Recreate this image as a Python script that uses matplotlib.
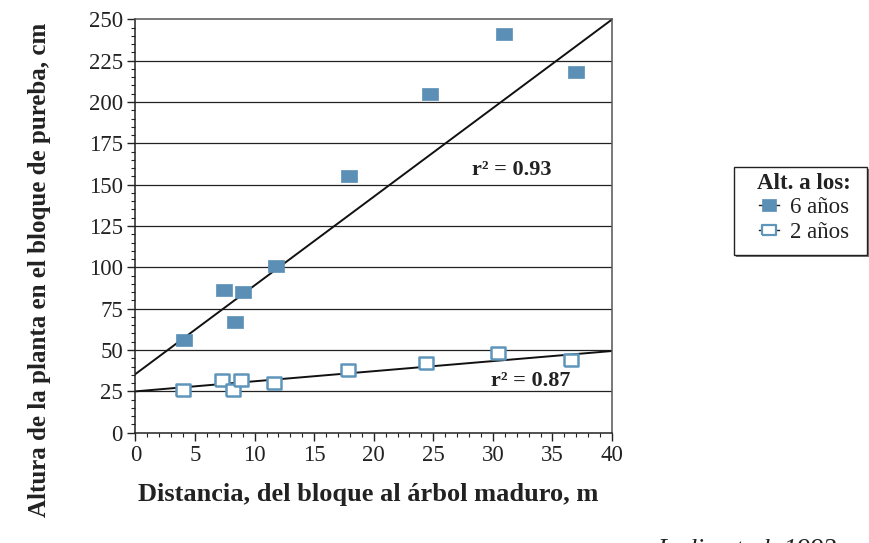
import matplotlib
matplotlib.use("Agg")
import matplotlib.pyplot as plt
import numpy as np
from matplotlib.ticker import MultipleLocator
from matplotlib.patches import Rectangle

plt.rcParams['font.family'] = ['Liberation Serif', 'DejaVu Serif']

# Distance to mature tree (m) and plant height (cm)
dist_6 = [4.05, 7.4, 9.05, 8.35, 11.8, 17.9, 24.7, 30.9, 37.0]
alt_6 = [56, 86, 85, 67, 101, 155, 205, 241, 218]
dist_2 = [3.95, 7.25, 8.2, 8.85, 11.6, 17.8, 24.35, 30.4, 36.6]
alt_2 = [26, 32, 26, 32, 30, 38, 42, 48, 44]

# Regression lines (intercept, slope) and their r²
fit_6 = (35.5, 5.36)
fit_2 = (25.0, 0.61)
r2_6 = 0.93
r2_2 = 0.87

series_labels = ['6 años', '2 años']
legend_title = 'Alt. a los:'
x_label = 'Distancia, del bloque al árbol maduro, m'
y_label = 'Altura de la planta en el bloque de pureba, cm'
source = 'Ledig et al. 1993'

blue = '#5b8fb6'
blue_edge = '#5e95bb'
ink = '#222222'
rect = [(-1, -0.78), (1, -0.78), (1, 0.78), (-1, 0.78), (-1, -0.78)]

W, H = 870, 543
fig = plt.figure(figsize=(W / 100, H / 100), dpi=100)
ax = fig.add_axes([135.5 / W, 1 - 432.7 / H, 476.5 / W, 413.4 / H])

ax.set_xlim(0, 40)
ax.set_ylim(0, 250)

for y in range(25, 250, 25):
    ax.axhline(y, color=ink, lw=0.9, zorder=1)

xs = np.array([0, 40])
ax.plot(xs, fit_6[0] + fit_6[1] * xs, color='#111111', lw=1.4, zorder=2)
ax.plot(xs, fit_2[0] + fit_2[1] * xs, color='#111111', lw=1.4, zorder=2)

ax.plot(dist_6, alt_6, ls='none', marker=rect, ms=11.5, mfc=blue, mec=blue,
        mew=0.5, zorder=3)
ax.plot(dist_2, alt_2, ls='none', marker=rect, ms=10.5, mfc='white',
        mec=blue_edge, mew=1.8, zorder=3)

# legend box with a thin drop shadow
box = (734, 167, 867, 255)
fig.patches.append(Rectangle(((box[0] + 2) / W, 1 - (box[3] + 2) / H),
                             (box[2] - box[0]) / W, (box[3] - box[1]) / H,
                             transform=fig.transFigure, fc='#777777',
                             ec='none', zorder=0.5))
fig.patches.append(Rectangle((box[0] / W, 1 - box[3] / H),
                             (box[2] - box[0]) / W, (box[3] - box[1]) / H,
                             transform=fig.transFigure, fc='white', ec=ink,
                             lw=1.0, zorder=1))

# legend handles: marker with a line through it
h6, = ax.plot([], [], color=ink, lw=1.0, marker=rect, ms=10.5, mfc=blue,
              mec=blue, mew=0.5)
h2, = ax.plot([], [], color=ink, lw=1.0, marker=rect, ms=9.5,
              mfc='white', mec=blue_edge, mew=1.6)
leg = fig.legend([h6, h2], series_labels, title=legend_title,
                 loc='upper left', bbox_to_anchor=(757 / W, 1 - 173 / H),
                 frameon=False, fontsize=16.5, title_fontsize=16.5,
                 handlelength=0.85, handletextpad=0.48, borderpad=0,
                 labelspacing=0.15, borderaxespad=0)
leg.set_zorder(5)
leg.get_title().set_fontweight('bold')
leg.get_title().set_color(ink)
for t in leg.get_texts():
    t.set_color(ink)

ax.text(31.6, 159, 'r² = %.2f' % r2_6, fontsize=16, fontweight='bold',
        ha='center', va='center', color=ink)
ax.text(33.2, 31, 'r² = %.2f' % r2_2, fontsize=16, fontweight='bold',
        ha='center', va='center', color=ink)

ax.xaxis.set_major_locator(MultipleLocator(5))
ax.xaxis.set_minor_locator(MultipleLocator(1))
ax.yaxis.set_major_locator(MultipleLocator(25))
ax.yaxis.set_minor_locator(MultipleLocator(5))
ax.tick_params(which='major', direction='out', length=6, width=1.0,
               labelsize=16.5, colors=ink, pad=3)
ax.tick_params(which='minor', direction='out', length=3, width=0.8,
               colors=ink)

for s in ['left', 'bottom']:
    ax.spines[s].set_color(ink)
    ax.spines[s].set_linewidth(1.1)
for s in ['top', 'right']:
    ax.spines[s].set_color('#555555')
    ax.spines[s].set_linewidth(1.1)

fig.text(368.5 / W, 1 - 495 / H, x_label, fontsize=19, fontweight='bold',
         color=ink, ha='center', va='center')
fig.text(40 / W, 1 - 270 / H, y_label, fontsize=18, fontweight='bold',
         color=ink, ha='center', va='center', rotation=90)

fig.text(837 / W, 1 - 556 / H, source, fontsize=19, style='italic',
         ha='right', va='baseline', color=ink)

fig.savefig('out.png', dpi=100)
